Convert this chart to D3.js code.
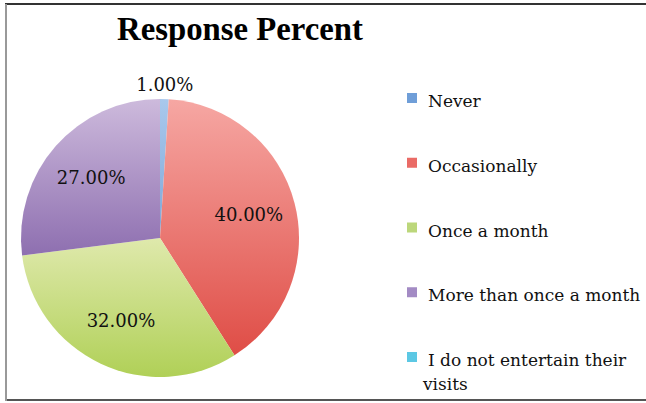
<!DOCTYPE html>
<html><head><meta charset="utf-8">
<script src="https://cdn.jsdelivr.net/npm/d3@7/dist/d3.min.js"></script>
<style>html,body{margin:0;padding:0;background:#fff;overflow:hidden}</style>
</head><body>
<svg id="chart" width="646" height="403"></svg>
<script>
const categories = ["Never", "Occasionally", "Once a month", "More than once a month", "I do not entertain their visits"];
const values = [1, 40, 32, 27, 0];
const valueLabels = ["1.00%", "40.00%", "32.00%", "27.00%", "0.00%"];
const colorsLight = ["#a9c8ec", "#f6a7a3", "#dfe9ac", "#cdbadc", "#7fd3ea"];
const colorsDark = ["#7fa7d8", "#df4d46", "#b0d057", "#8e6fb0", "#4bc0df"];
const legendColors = ["#6f9ed8", "#ea6b66", "#bcd77b", "#a38bc4", "#5cc8e4"];

const svg = d3.select("#chart");
const titleFont = "'Liberation Serif', 'DejaVu Serif', serif";
const font = "'DejaVu Serif', 'Liberation Serif', serif";

// frame
svg.append("line").attr("x1", 5).attr("x2", 646).attr("y1", 4).attr("y2", 4).attr("stroke", "#333").attr("stroke-width", 2);
svg.append("line").attr("x1", 5).attr("x2", 646).attr("y1", 400).attr("y2", 400).attr("stroke", "#555").attr("stroke-width", 2);
svg.append("line").attr("x1", 6).attr("x2", 6).attr("y1", 4).attr("y2", 401).attr("stroke", "#999").attr("stroke-width", 2);

// title
svg.append("text").attr("x", 240).attr("y", 40).attr("text-anchor", "middle")
  .attr("font-family", titleFont).attr("font-weight", "bold").attr("font-size", 34)
  .attr("textLength", 246).attr("lengthAdjust", "spacingAndGlyphs")
  .attr("fill", "#000").text("Response Percent");

const defs = svg.append("defs");
categories.forEach((c, i) => {
  const g = defs.append("linearGradient").attr("id", "g" + i)
    .attr("x1", 0).attr("y1", 0).attr("x2", 0).attr("y2", 1);
  g.append("stop").attr("offset", "0%").attr("stop-color", colorsLight[i]);
  g.append("stop").attr("offset", "100%").attr("stop-color", colorsDark[i]);
});

const cx = 160, cy = 238, r = 139;
const pie = d3.pie().sort(null).value(d => d.v);
const data = categories.map((c, i) => ({c, v: values[i], i}));
const arcs = pie(data);
const arc = d3.arc().innerRadius(0).outerRadius(r);
const g = svg.append("g").attr("transform", `translate(${cx},${cy})`);
g.selectAll("path").data(arcs.filter(d => d.data.v > 0)).join("path")
  .attr("d", arc).attr("fill", d => `url(#g${d.data.i})`);

// labels
const labelArc = d3.arc().innerRadius(r * 0.66).outerRadius(r * 0.66);
const outerArc = d3.arc().innerRadius(r * 1.1).outerRadius(r * 1.1);
g.selectAll("text.lab").data(arcs.filter(d => d.data.v > 0)).join("text")
  .attr("class", "lab")
  .attr("transform", d => {
    const p = d.data.v < 5 ? outerArc.centroid(d) : labelArc.centroid(d);
    return `translate(${p[0]},${p[1]})`;
  })
  .attr("text-anchor", "middle").attr("dy", "0.35em")
  .attr("font-family", font).attr("font-size", 18).attr("fill", "#111")
  .text(d => valueLabels[d.data.i]);

// legend
const ly = d3.scalePoint().domain(categories).range([107, 366]);
const leg = svg.append("g");
categories.forEach((c, i) => {
  const y = ly(c);
  leg.append("rect").attr("x", 407).attr("y", y - 14).attr("width", 10).attr("height", 10)
    .attr("fill", legendColors[i]);
  const t = leg.append("text").attr("x", 428).attr("y", y)
    .attr("font-family", font).attr("font-size", 17).attr("fill", "#111");
  if (i === 4) {
    t.append("tspan").attr("x", 428).text("I do not entertain their");
    t.append("tspan").attr("x", 423).attr("dy", 24).text("visits");
  } else t.text(c);
});
</script>
</body></html>
